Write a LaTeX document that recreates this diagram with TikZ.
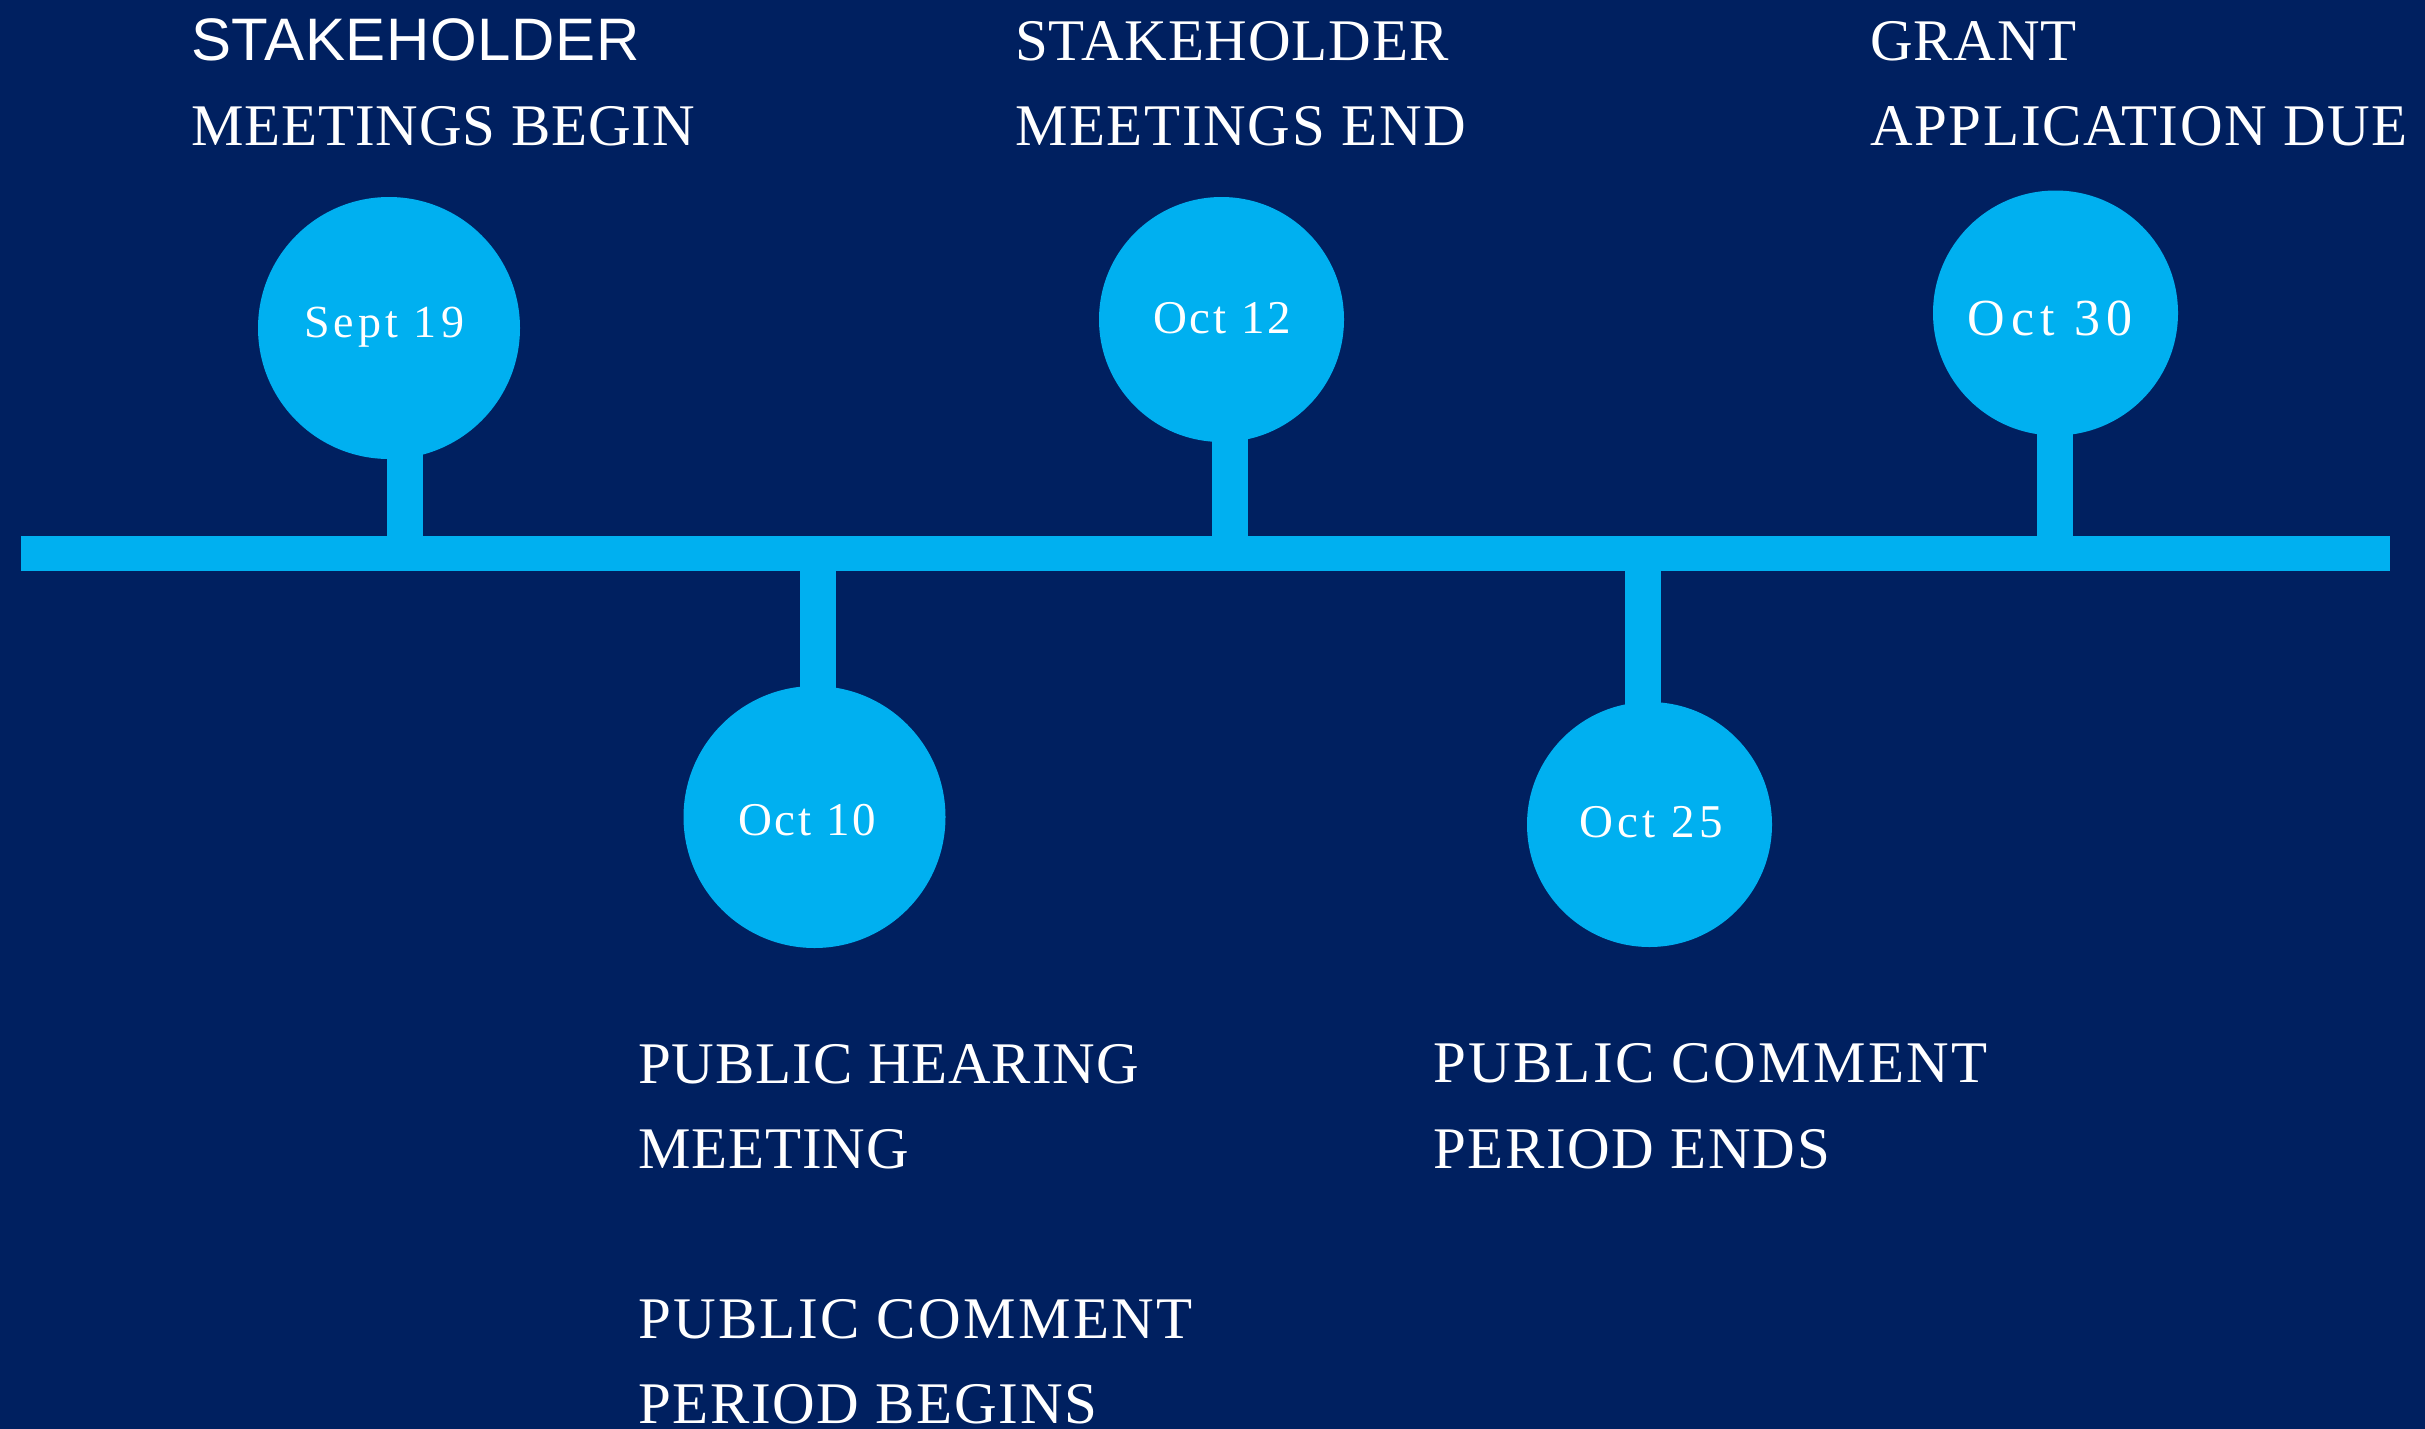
\documentclass[tikz,border=0pt]{standalone}
\usepackage{fontspec}
\setmainfont{Liberation Serif}
\newfontfamily\lsA{Liberation Serif}[LetterSpace=1.5]
\newfontfamily\lsB{Liberation Serif}[LetterSpace=2.8]
\newfontfamily\lsC{Liberation Serif}[LetterSpace=4]
\newfontfamily\sansf{Liberation Sans}[LetterSpace=1]
\newfontfamily\datef{Liberation Serif}[LetterSpace=6]
\newfontfamily\datefm{Liberation Serif}[LetterSpace=9]
\newfontfamily\datefw{Liberation Serif}[LetterSpace=12]
\usetikzlibrary{backgrounds}
\definecolor{navy}{RGB}{0,32,96}
\definecolor{sky}{RGB}{0,176,240}
\begin{document}
\begin{tikzpicture}[x=1pt,y=-1pt,
  dot/.style={circle,fill=sky,inner sep=0pt,minimum size=#1},
  stemline/.style={draw=sky,line width=36pt},
  lbl/.style={text=white,anchor=base west,inner sep=0pt,font=\lsA\fontsize{59}{85}\selectfont},
  lblB/.style={lbl,font=\lsB\fontsize{59}{85}\selectfont},
  lblC/.style={lbl,font=\lsC\fontsize{59}{85}\selectfont},
  lblsans/.style={lbl,font=\sansf\fontsize{60}{85}\selectfont},
  datelbl/.style={text=white,anchor=base,inner sep=0pt,font=\datef\fontsize{47}{56}\selectfont}]
\useasboundingbox (0,0) rectangle (2425,1429);

% timeline bar
\node[fill=sky,inner sep=0pt,minimum width=2369pt,minimum height=35pt] (bar) at (1205.5,553.5) {};

% milestone circles
\node[dot=262pt] (c1) at (389,328) {};
\node[dot=262pt] (c2) at (814.5,817) {};
\node[dot=245pt] (c3) at (1221.5,319.5) {};
\node[dot=245pt] (c4) at (1649.5,824.5) {};
\node[dot=245pt] (c5) at (2055.5,313) {};

% stem anchor points on the bar
\coordinate (s1) at (405,553.5);
\coordinate (s2) at (818,553.5);
\coordinate (s3) at (1230,553.5);
\coordinate (s4) at (1643,553.5);
\coordinate (s5) at (2055,553.5);

\begin{pgfonlayer}{background}
  \fill[navy] (0,0) rectangle (2425,1429);
  \draw[stemline] (s1) -- (s1 |- c1.center);
  \draw[stemline] (s2) -- (s2 |- c2.center);
  \draw[stemline] (s3) -- (s3 |- c3.center);
  \draw[stemline] (s4) -- (s4 |- c4.center);
  \draw[stemline] (s5) -- (s5 |- c5.center);
\end{pgfonlayer}

% dates
\node[datelbl,font=\datefm\fontsize{46}{56}\selectfont] (d1) at (384,337) {Sept 19};
\node[datelbl] (d2) at (807,835) {Oct 10};
\node[datelbl] (d3) at (1222,333) {Oct 12};
\node[datelbl,font=\datefm\fontsize{47}{56}\selectfont] (d4) at (1651,837) {Oct 25};
\node[datelbl,font=\datefw\fontsize{52}{60}\selectfont] (d5) at (2050,335) {Oct 30};

% labels
\node[lblsans] (t1a) at (191,60) {STAKEHOLDER};
\node[lbl] (t1b) at (191,145) {MEETINGS BEGIN};
\node[lbl] (t2a) at (1015,60) {STAKEHOLDER};
\node[lblB] (t2b) at (1015,145) {MEETINGS END};
\node[lbl] (t3a) at (1870,60) {GRANT};
\node[lblB] (t3b) at (1870,145) {APPLICATION DUE};
\node[lbl] (t4a) at (638,1083) {PUBLIC HEARING};
\node[lbl] (t4b) at (638,1168) {MEETING};
\node[lblC] (t4c) at (638,1338) {PUBLIC COMMENT};
\node[lblB] (t4d) at (638,1423) {PERIOD BEGINS};
\node[lblC] (t5a) at (1433,1082) {PUBLIC COMMENT};
\node[lblB] (t5b) at (1433,1168) {PERIOD ENDS};
\end{tikzpicture}
\end{document}
